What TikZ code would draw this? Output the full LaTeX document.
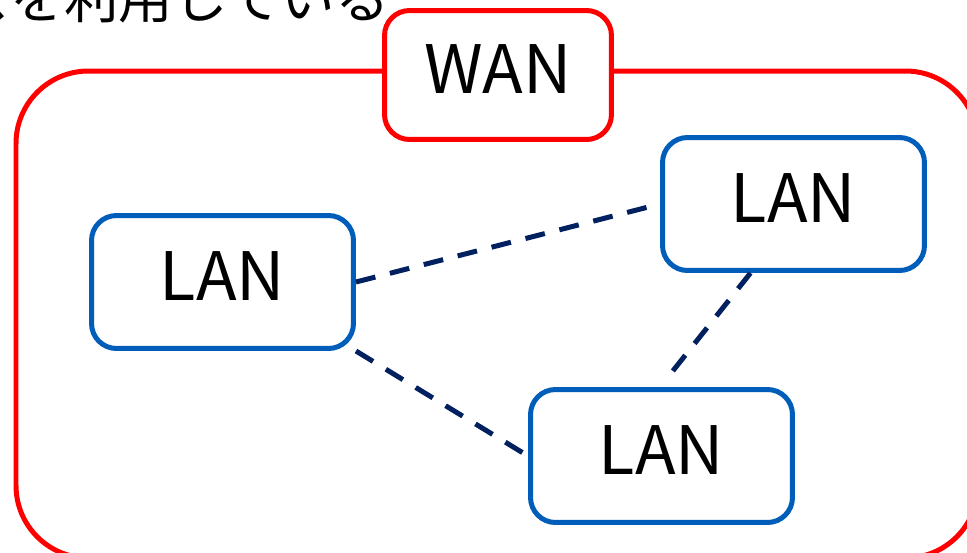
\documentclass[tikz,border=0pt]{standalone}
\usepackage{fontspec}
\setmainfont{Noto Sans CJK JP}
\usepackage{tikz}
\usetikzlibrary{positioning}
\definecolor{wanred}{RGB}{255,0,0}
\definecolor{lanblue}{RGB}{0,94,186}
\definecolor{linknavy}{RGB}{0,32,96}
\tikzset
{
    areabox/.style = {draw=wanred, line width=0.1cm, rounded corners=1.45cm},
    wannode/.style = {draw=wanred, fill=white, line width=0.1cm, rounded corners=0.5cm, align=center, minimum width=4.54cm, minimum height=2.58cm, text depth=0.25cm, font=\fontsize{38}{40}\selectfont},
    lannode/.style = {draw=lanblue, fill=white, line width=0.1cm, rounded corners=0.5cm, align=center, minimum width=5.24cm, minimum height=2.66cm, text depth=0.25cm, font=\fontsize{38}{40}\selectfont},
    link/.style    = {draw=linknavy, line width=0.1cm, dash pattern=on 0.4cm off 0.3cm}
}

\begin{document}
\begin{tikzpicture}[x=0.02cm, y=-0.02cm]
    \useasboundingbox (0,0) rectangle (967,552);
    \clip (0,0) rectangle (967,552);
    % caption line, cut at the left edge
    \node [anchor=base east, inner sep=0pt, font=\fontsize{31}{33}\selectfont] (caption) at (390,18) {スを利用している};
    % the wide area
    \draw [areabox] (16,71) rectangle (978,558);
    \node [wannode] (wan) at (498,75) {WAN};
    % the three local networks
    \node [lannode] (lanA) at (222.5,282) {LAN};
    \node [lannode] (lanB) at (793.5,204) {LAN};
    \node [lannode] (lanC) at (661.5,456) {LAN};
    % links between them
    \draw [link] (lanA.east) -- (lanB.west);
    \draw [link] (lanA.south east) -- (lanC.west);
    \draw [link] ([xshift=-0.86cm]lanB.south) -- ([xshift=0.13cm,yshift=0.2cm]lanC.north);
\end{tikzpicture}
\end{document}
